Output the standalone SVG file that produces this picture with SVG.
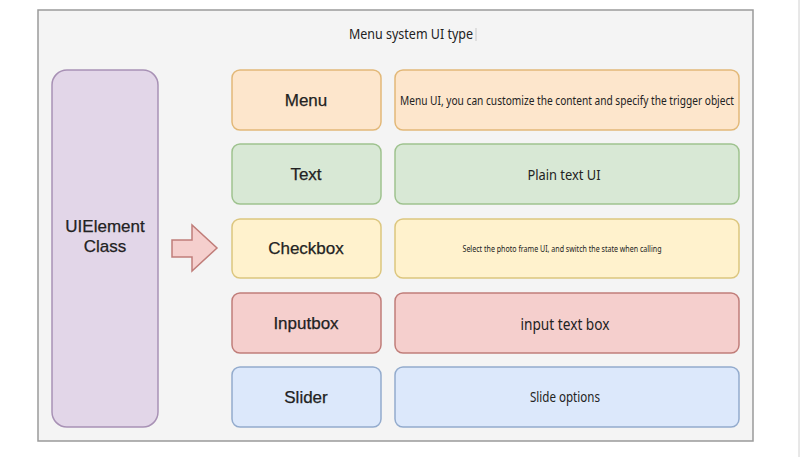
<svg xmlns="http://www.w3.org/2000/svg" width="800" height="457" viewBox="0 0 800 457">
<style>
.box{stroke-width:1.5}
.lbl{font-family:"Liberation Sans",Arial,sans-serif;font-size:17px;fill:#222;text-anchor:middle;stroke:#222;stroke-width:0.25}
.desc{font-family:"Noto Sans","Open Sans",sans-serif;fill:#222;text-anchor:middle}
.orange{fill:#fde6cc;stroke:#e2b878}
.green{fill:#d8e8d5;stroke:#9ec28e}
.yellow{fill:#fff2cd;stroke:#dcc67e}
.red{fill:#f5cfcd;stroke:#c07d79}
.blue{fill:#dce8fb;stroke:#93abcd}
.purple{fill:#e2d6e8;stroke:#a891b5}
</style>
<rect width="800" height="457" fill="#ffffff"/>
<line x1="799" y1="0" x2="799" y2="457" stroke="#d0d0d0" stroke-width="1"/>
<g id="frame">
<rect x="38" y="10" width="715" height="431" fill="#f4f4f4" stroke="#9a9a9a" stroke-width="1.5"/>
<text x="411" y="39" class="desc" font-size="14.5" textLength="124" lengthAdjust="spacingAndGlyphs">Menu system UI type</text>
<line x1="476" y1="28" x2="476" y2="41" stroke="#c8c8c8" stroke-width="1"/>
</g>
<g id="uielement">
<rect class="box purple" x="52" y="70" width="106" height="357" rx="15"/>
<text class="lbl" x="105" y="232">UIElement</text>
<text class="lbl" x="105" y="252">Class</text>
</g>
<g id="connectors">
<path d="M172,240 H192 V225 L217,248 L192,271 V257 H172 Z" fill="#f5cfcd" stroke="#c07d79" stroke-width="1.5" stroke-linejoin="miter"/>
</g>
<g id="menu">
<rect class="box orange" x="232" y="70" width="149" height="60" rx="8"/>
<text class="lbl" x="306" y="106">Menu</text>
</g>
<g id="menu-desc">
<rect class="box orange" x="395" y="70" width="344" height="60" rx="8"/>
<text class="desc" x="567" y="105" font-size="13" textLength="334" lengthAdjust="spacingAndGlyphs">Menu UI, you can customize the content and specify the trigger object</text>
</g>
<g id="text">
<rect class="box green" x="232" y="144" width="149" height="60" rx="8"/>
<text class="lbl" x="306" y="180">Text</text>
</g>
<g id="text-desc">
<rect class="box green" x="395" y="144" width="344" height="60" rx="8"/>
<text class="desc" x="564" y="180" font-size="15" textLength="73" lengthAdjust="spacingAndGlyphs">Plain text UI</text>
</g>
<g id="checkbox">
<rect class="box yellow" x="232" y="219" width="149" height="59" rx="8"/>
<text class="lbl" x="306" y="254">Checkbox</text>
</g>
<g id="checkbox-desc">
<rect class="box yellow" x="395" y="219" width="344" height="59" rx="8"/>
<text class="desc" x="562" y="252" font-size="9" textLength="199" lengthAdjust="spacingAndGlyphs">Select the photo frame UI, and switch the state when calling</text>
</g>
<g id="inputbox">
<rect class="box red" x="232" y="293" width="149" height="60" rx="8"/>
<text class="lbl" x="306" y="329">Inputbox</text>
</g>
<g id="inputbox-desc">
<rect class="box red" x="395" y="293" width="344" height="60" rx="8"/>
<text class="desc" x="565" y="330" font-size="16.5" textLength="89" lengthAdjust="spacingAndGlyphs">input text box</text>
</g>
<g id="slider">
<rect class="box blue" x="232" y="367" width="149" height="60" rx="8"/>
<text class="lbl" x="306" y="403">Slider</text>
</g>
<g id="slider-desc">
<rect class="box blue" x="395" y="367" width="344" height="60" rx="8"/>
<text class="desc" x="565" y="402" font-size="14.5" textLength="70" lengthAdjust="spacingAndGlyphs">Slide options</text>
</g>
</svg>
